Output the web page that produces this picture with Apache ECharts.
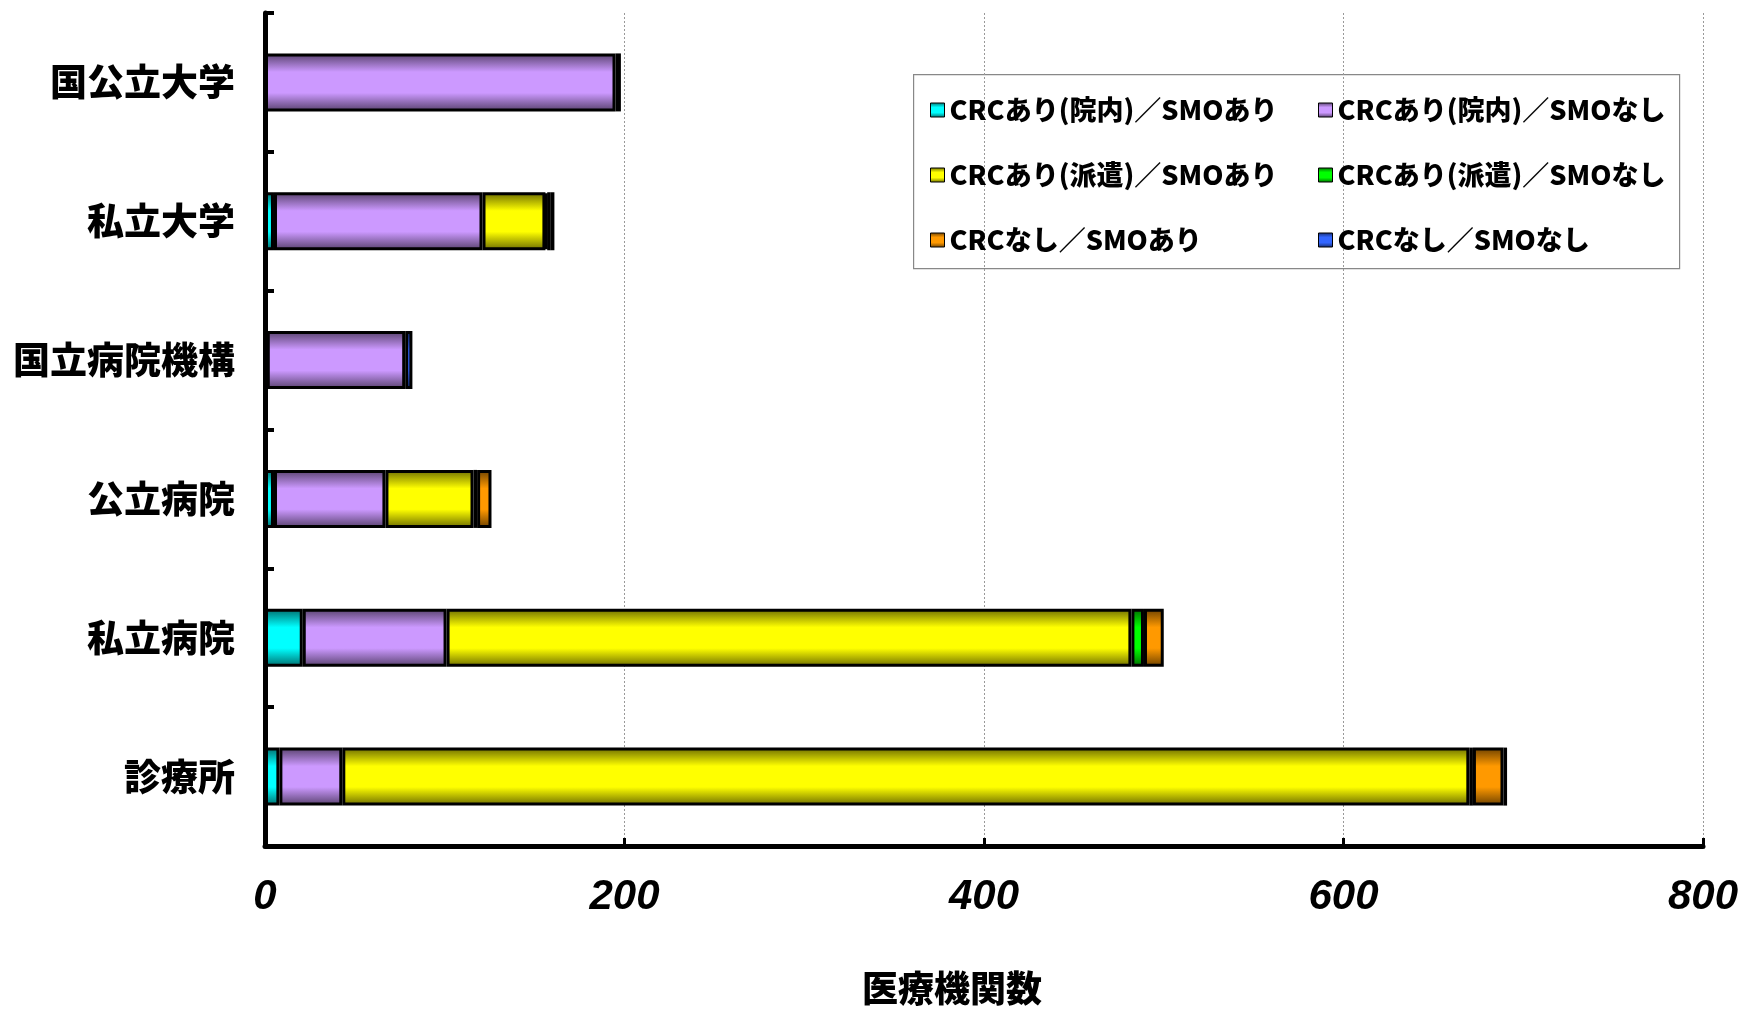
<!DOCTYPE html>
<html>
<head>
<meta charset="utf-8">
<script src="https://cdn.jsdelivr.net/npm/echarts@6/dist/echarts.min.js"></script>
<style>
  html, body { margin: 0; padding: 0; background: #fff; }
  #chart { width: 1742px; height: 1011px; }
</style>
</head>
<body>
<div id="chart"></div>
<script>
// Institution types, listed top to bottom
const categories = ['国公立大学', '私立大学', '国立病院機構', '公立病院', '私立病院', '診療所'];

// Number of institutions per CRC / SMO arrangement
const crcInSmoYes   = [0,   5,   1,   5,  21,   8];
const crcInSmoNo    = [195, 116, 77,  62,  80,  35];
const crcDispSmoYes = [3,   35,  0,   49, 381, 627];
const crcDispSmoNo  = [0,   1,   0,   2,   7,   2];
const crcNoSmoYes   = [0,   2,   0,   8,  11,  17];
const crcNoSmoNo    = [0,   2,   4,   0,   0,   2];

const seriesNames = [
  'CRCあり(院内)／SMOあり', 'CRCあり(院内)／SMOなし',
  'CRCあり(派遣)／SMOあり', 'CRCあり(派遣)／SMOなし',
  'CRCなし／SMOあり', 'CRCなし／SMOなし'
];
const seriesData = [crcInSmoYes, crcInSmoNo, crcDispSmoYes, crcDispSmoNo, crcNoSmoYes, crcNoSmoNo];
const seriesColors = ['#00FFFF', '#CC99FF', '#FFFF00', '#00FF00', '#FF9900', '#3366FF'];

const xTicks = [0, 200, 400, 600, 800];

function shade(hex, f) {
  const n = parseInt(hex.slice(1), 16);
  const r = Math.round(((n >> 16) & 255) * f);
  const g = Math.round(((n >> 8) & 255) * f);
  const b = Math.round((n & 255) * f);
  return 'rgb(' + r + ',' + g + ',' + b + ')';
}

// Cylinder-like shading across the thickness of each bar
function tube(hex) {
  return {
    type: 'linear', x: 0, y: 0, x2: 0, y2: 1,
    colorStops: [
      { offset: 0, color: shade(hex, 0.42) },
      { offset: 0.32, color: hex },
      { offset: 0.68, color: hex },
      { offset: 1, color: shade(hex, 0.42) }
    ]
  };
}

const cjkFont = '"Noto Sans CJK JP", "Noto Sans", sans-serif';

const series = seriesNames.map((name, i) => ({
  name: name,
  type: 'bar',
  stack: 'total',
  barWidth: 58,
  data: seriesData[i].map(v => (v === 0 ? null : v)),
  itemStyle: {
    color: tube(seriesColors[i]),
    borderColor: '#000',
    borderWidth: 3
  },
  emphasis: { disabled: true }
}));

const legendText = {
  fontFamily: cjkFont,
  fontWeight: 900,
  fontSize: 27,
  color: '#000',
  lineHeight: 30
};

const legendBase = {
  orient: 'vertical',
  top: 95,
  padding: 0,
  itemGap: 35,
  itemWidth: 14,
  itemHeight: 14,
  icon: 'rect',
  itemStyle: { borderColor: '#000', borderWidth: 1 },
  textStyle: legendText,
  selectedMode: false
};

const chart = echarts.init(document.getElementById('chart'), null, { renderer: 'canvas' });
chart.setOption({
  backgroundColor: '#fff',
  animation: false,
  grid: { left: 265, right: 39, top: 13, bottom: 162, containLabel: false },
  legend: [
    Object.assign({}, legendBase, { left: 930, data: [seriesNames[0], seriesNames[2], seriesNames[4]] }),
    Object.assign({}, legendBase, { left: 1318, data: [seriesNames[1], seriesNames[3], seriesNames[5]] })
  ],
  graphic: [{
    type: 'rect',
    left: 913, top: 74,
    shape: { width: 766, height: 194 },
    style: { fill: '#fff', stroke: '#888', lineWidth: 1.2 },
    z: -1
  }],
  xAxis: {
    type: 'value',
    min: xTicks[0],
    max: xTicks[xTicks.length - 1],
    interval: 200,
    name: '医療機関数',
    nameLocation: 'middle',
    nameGap: 124,
    nameTextStyle: {
      fontFamily: cjkFont, fontWeight: 900, fontSize: 36, color: '#000',
      padding: [0, 64, 0, 0]
    },
    axisLine: { show: true, lineStyle: { color: '#000', width: 5 } },
    axisTick: { show: true, inside: true, length: 8, lineStyle: { color: '#000', width: 3 } },
    axisLabel: {
      margin: 30,
      fontFamily: '"Liberation Sans", Arial, sans-serif',
      fontWeight: 'bold', fontStyle: 'italic', fontSize: 42, color: '#000'
    },
    splitLine: { show: true, lineStyle: { color: '#999', width: 1, type: [2, 2] } }
  },
  yAxis: {
    type: 'category',
    inverse: true,
    data: categories,
    axisLine: { show: true, lineStyle: { color: '#000', width: 5 } },
    axisTick: { show: true, inside: true, length: 9, lineStyle: { color: '#000', width: 4 } },
    axisLabel: {
      margin: 30,
      fontFamily: cjkFont, fontWeight: 900, fontSize: 37, color: '#000'
    },
    splitLine: { show: false }
  },
  series: series
});
</script>
</body>
</html>
